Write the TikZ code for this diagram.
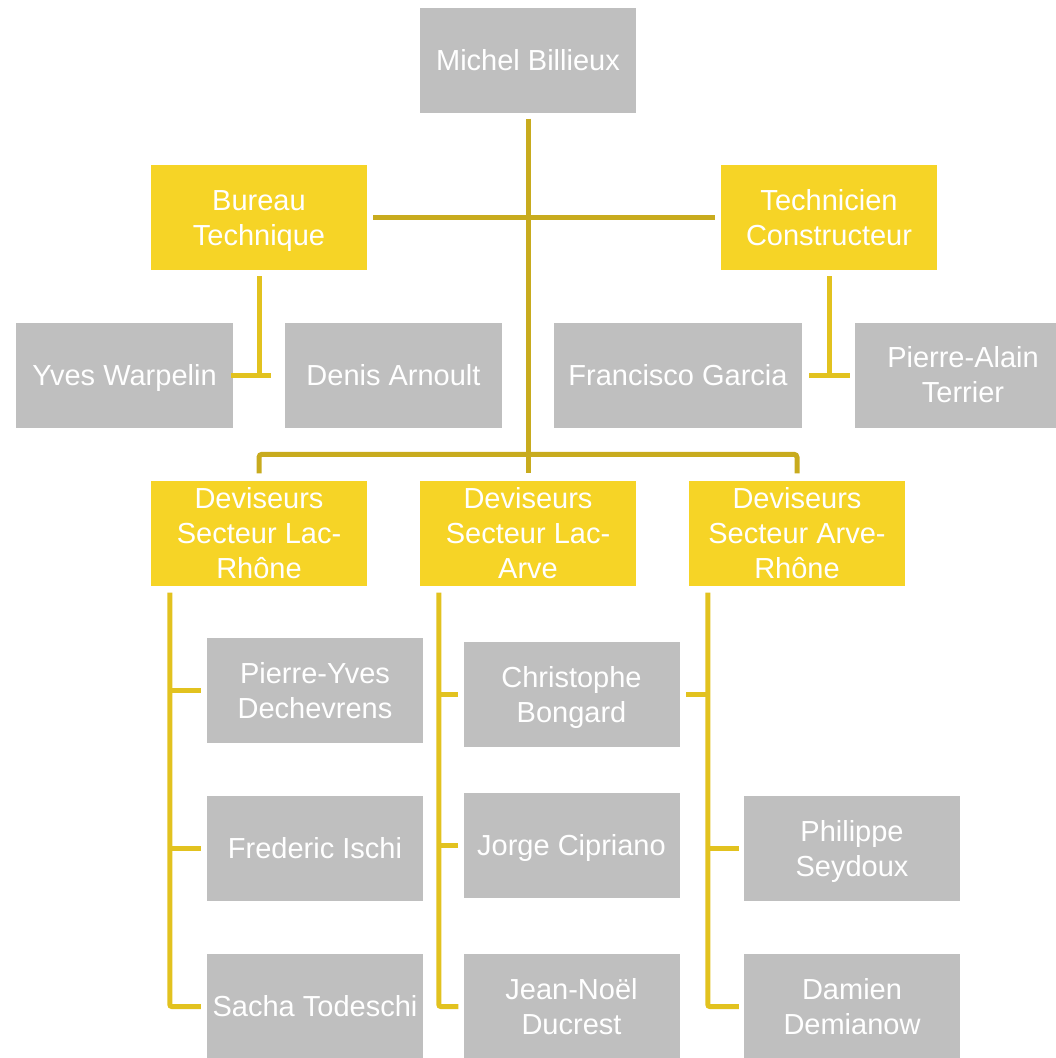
\documentclass[tikz,border=0pt]{standalone}
\usepackage{fontspec}
\setmainfont{Liberation Sans}
\definecolor{boxgrey}{HTML}{BFBFBF}
\definecolor{boxyellow}{HTML}{F6D426}
\definecolor{linedark}{HTML}{C8AB1E}
\definecolor{linebright}{HTML}{E2C21F}
\newcommand\lnstrut{\rule[-0.22em]{0pt}{1.156em}}
\newcommand\tl[1]{#1\lnstrut}
\tikzset{
  base/.style={rectangle, minimum width=216pt, minimum height=105pt, inner sep=0pt,
    align=center, text=white, font=\fontsize{29}{35}\selectfont},
  greybox/.style={base, fill=boxgrey},
  yellowbox/.style={base, fill=boxyellow},
  darkline/.style={draw=linedark, line width=5pt},
  brightline/.style={draw=linebright, line width=5pt},
}
\begin{document}
\begin{tikzpicture}[x=1pt,y=-1pt]
\useasboundingbox (0,0) rectangle (1056,1058);
\clip (0,0) rectangle (1056,1058);
% top
\node[greybox] (mb) at (528,60) {\tl{Michel Billieux}};
\node[yellowbox] (bt) at (259,217.5) {\tl{Bureau}\\\tl{Technique}};
\node[yellowbox] (tc) at (829,217.5) {\tl{Technicien}\\\tl{Constructeur}};
% second level
\node[greybox, minimum width=217pt] (yw) at (124.5,375) {\tl{Yves Warpelin}};
\node[greybox, minimum width=217pt] (da) at (393.5,375) {\tl{Denis Arnoult}};
\node[greybox, minimum width=248pt] (fg) at (678,375) {\tl{Francisco Garcia}};
\node[greybox] (pa) at (963,375) {\tl{Pierre-Alain}\\\tl{Terrier}};
% deviseurs
\node[yellowbox] (d1) at (259,533) {\tl{Deviseurs}\\\tl{Secteur Lac-}\\\tl{Rhône}};
\node[yellowbox] (d2) at (528,533) {\tl{Deviseurs}\\\tl{Secteur Lac-}\\\tl{Arve}};
\node[yellowbox] (d3) at (797,533) {\tl{Deviseurs}\\\tl{Secteur Arve-}\\\tl{Rhône}};
% column 1
\node[greybox] (pyd) at (315,690.5) {\tl{Pierre-Yves}\\\tl{Dechevrens}};
\node[greybox] (fi) at (315,848.5) {\tl{Frederic Ischi}};
\node[greybox] (st) at (315,1006.5) {\tl{Sacha Todeschi}};
% column 2
\node[greybox] (cb) at (571.5,694.5) {\tl{Christophe}\\\tl{Bongard}};
\node[greybox] (jc) at (571.5,845.5) {\tl{Jorge Cipriano}};
\node[greybox] (jn) at (571.5,1006.5) {\tl{Jean-Noël}\\\tl{Ducrest}};
% column 3
\node[greybox] (ps) at (852,848.5) {\tl{Philippe}\\\tl{Seydoux}};
\node[greybox] (dd) at (852,1006.5) {\tl{Damien}\\\tl{Demianow}};

% main trunk and top bar
\draw[darkline] ([yshift=-6pt]mb.south) -- ([yshift=7pt]d2.north);
\draw[darkline] ([xshift=6pt]bt.east) -- ([xshift=-6pt]tc.west);
\coordinate (bus) at ([yshift=26pt]d1.north);
\draw[darkline, rounded corners=3pt] ([yshift=7pt]d1.north) -- (bus) -| ([yshift=7pt]d3.north);

% Bureau Technique children
\draw[brightline] ([yshift=-6pt]bt.south) -- (bt.south |- yw.east);
\draw[brightline] ([xshift=-2pt]yw.east) -- ([xshift=-14pt]da.west);
% Technicien Constructeur children
\draw[brightline] ([yshift=-6pt]tc.south) -- (tc.south |- fg.east);
\draw[brightline] ([xshift=7pt]fg.east) -- ([xshift=-5pt]pa.west);

% column 1
\coordinate (c1) at ([xshift=19pt,yshift=-7pt]d1.south west);
\draw[brightline, rounded corners=2pt] (c1) |- ([xshift=-6pt]st.west);
\draw[brightline] (c1 |- pyd.west) -- ([xshift=-6pt]pyd.west);
\draw[brightline] (c1 |- fi.west) -- ([xshift=-6pt]fi.west);
% column 2
\coordinate (c2) at ([xshift=19pt,yshift=-7pt]d2.south west);
\draw[brightline, rounded corners=2pt] (c2) |- ([xshift=-5pt]jn.west);
\draw[brightline] (c2 |- cb.west) -- ([xshift=-5pt]cb.west);
\draw[brightline] (c2 |- jc.west) -- ([xshift=-5pt]jc.west);
% column 3
\coordinate (c3) at ([xshift=19pt,yshift=-7pt]d3.south west);
\draw[brightline, rounded corners=2pt] (c3) |- ([xshift=-5pt]dd.west);
\draw[brightline] (c3 |- ps.west) -- ([xshift=-5pt]ps.west);
\draw[brightline] (c3 |- cb.east) -- ([xshift=6pt]cb.east);
\end{tikzpicture}
\end{document}
